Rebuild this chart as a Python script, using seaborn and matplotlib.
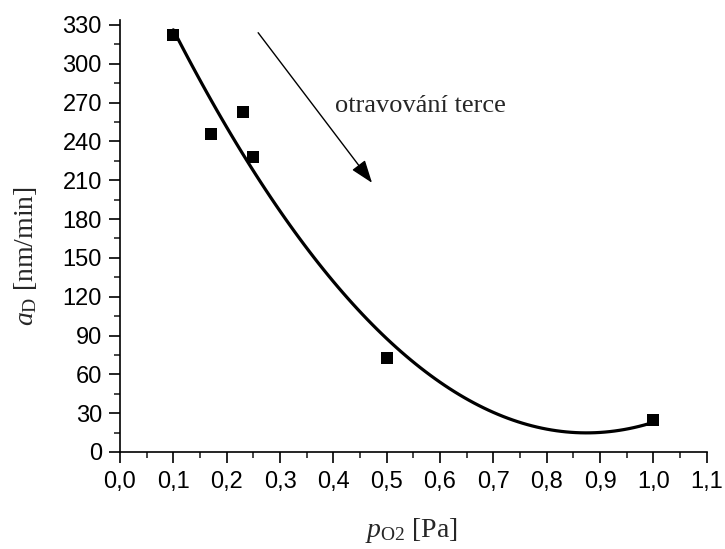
import numpy as np
import pandas as pd
import matplotlib
matplotlib.use("Agg")
import matplotlib.pyplot as plt
import seaborn as sns
from matplotlib.ticker import MultipleLocator, FuncFormatter

# data
p_o2 = [0.10, 0.17, 0.23, 0.25, 0.50, 1.00]
a_d = [322, 246, 263, 228, 73, 25]
x_ticks = [0.0, 0.1, 0.2, 0.3, 0.4, 0.5, 0.6, 0.7, 0.8, 0.9, 1.0, 1.1]
y_ticks = [0, 30, 60, 90, 120, 150, 180, 210, 240, 270, 300, 330]

df = pd.DataFrame({"p": p_o2, "a": a_d})

sns.set_style("ticks")
plt.rcParams["font.family"] = ["Liberation Sans", "DejaVu Sans"]
plt.rcParams["mathtext.fontset"] = "custom"
plt.rcParams["mathtext.rm"] = "Liberation Serif"
plt.rcParams["mathtext.it"] = "Liberation Serif:italic"

fig = plt.figure(figsize=(7.25, 5.49), dpi=100)
ax = fig.add_axes([0.1655, 0.1767, 0.8093, 0.7873])

sns.regplot(data=df, x="p", y="a", order=2, ci=None, ax=ax, marker="s",
            scatter_kws=dict(s=64, color="black", linewidths=0, alpha=1, zorder=3),
            line_kws=dict(color="black", lw=2.3))

ax.set_xlim(0, 1.1)
ax.set_ylim(0, 334)
ax.set_xticks(x_ticks)
ax.set_yticks(y_ticks)
ax.xaxis.set_minor_locator(MultipleLocator(0.05))
ax.yaxis.set_minor_locator(MultipleLocator(15))
ax.xaxis.set_major_formatter(FuncFormatter(lambda v, p: f"{v:.1f}".replace(".", ",")))
ax.tick_params(axis="both", which="major", length=8, width=1.2, labelsize=17,
               direction="out", colors="black")
ax.tick_params(axis="x", which="major", pad=5.5)
ax.tick_params(axis="y", which="major", pad=5)
ax.tick_params(axis="both", which="minor", length=4.2, width=1.2, direction="out")
for s in ["top", "right"]:
    ax.spines[s].set_visible(False)
for s in ["left", "bottom"]:
    ax.spines[s].set_linewidth(1.2)
    ax.spines[s].set_color("black")

ax.set_xlabel(r"$p_{\mathrm{O2}}\ \mathrm{[Pa]}$", fontsize=20)
ax.set_ylabel(r"$a_{\mathrm{D}}\ \mathrm{[nm/min]}$", fontsize=20)
ax.xaxis.set_label_coords(0.496, -0.148)
ax.yaxis.set_label_coords(-0.138, 0.4535)

ax.annotate("", xy=(0.4725, 208), xytext=(0.259, 324),
            arrowprops=dict(arrowstyle="-|>,head_length=0.7,head_width=0.25",
                            mutation_scale=20, color="black", lw=1.0,
                            shrinkA=0, shrinkB=0))
ax.text(0.403, 262.7, "otravování terce", family="Liberation Serif", fontsize=19,
        va="baseline", ha="left")

fig.savefig("out.png", dpi=100)
